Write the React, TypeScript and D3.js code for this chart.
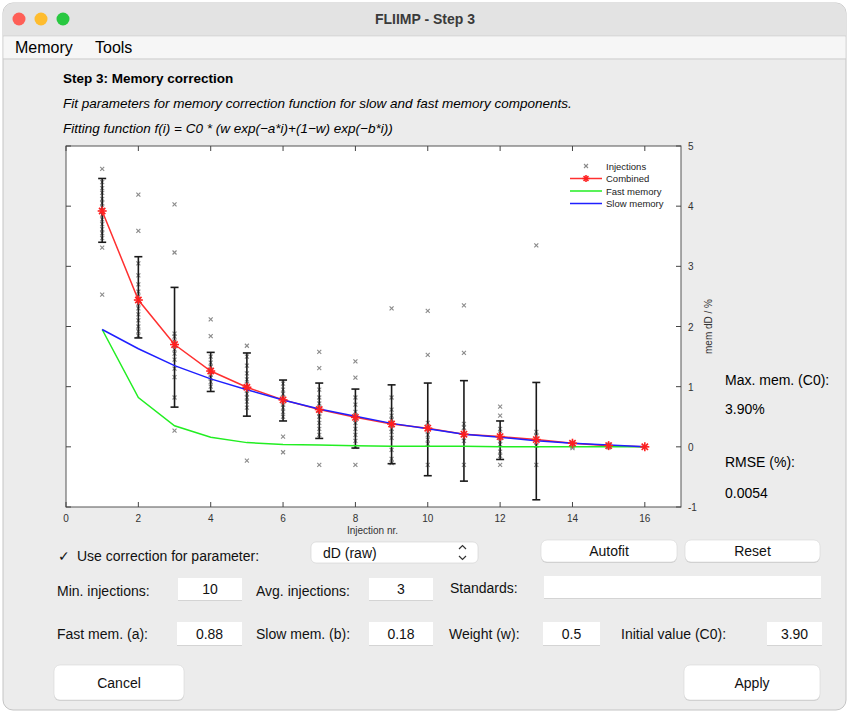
import React from "react";
import * as d3 from "d3";

// data
const injectionNr = [1, 2, 3, 4, 5, 6, 7, 8, 9, 10, 11, 12, 13, 14, 15, 16];
const combined = [3.92, 2.44, 1.70, 1.26, 0.99, 0.78, 0.62, 0.49, 0.38, 0.31, 0.21, 0.17, 0.12, 0.06, 0.02, 0.0];
const fastMemory = [1.95, 0.82, 0.35, 0.16, 0.07, 0.04, 0.03, 0.02, 0.01, 0.01, 0.01, 0.0, 0.0, 0.0, 0.0, 0.0];
const slowMemory = [1.95, 1.63, 1.35, 1.13, 0.95, 0.78, 0.63, 0.51, 0.39, 0.30, 0.21, 0.16, 0.10, 0.06, 0.03, 0.0];
const errHigh = [4.46, 3.16, 2.65, 1.57, 1.56, 1.11, 1.06, 0.96, 1.03, 1.06, 1.10, 0.43, 1.07];
const errLow = [3.40, 1.81, 0.66, 0.92, 0.51, 0.43, 0.14, -0.02, -0.28, -0.48, -0.57, -0.21, -0.88];
const injections = [
  [4.62, 4.4, 4.3, 4.22, 4.12, 4.05, 3.98, 3.93, 3.86, 3.78, 3.7, 3.62, 3.55, 3.47, 3.31, 2.53],
  [4.19, 3.59, 3.05, 2.85, 2.7, 2.58, 2.5, 2.44, 2.38, 2.3, 2.2, 2.1, 2.0, 1.92, 1.85],
  [4.03, 3.23, 1.88, 1.83, 1.75, 1.68, 1.62, 1.55, 1.45, 1.3, 1.16, 0.82, 0.27],
  [2.12, 1.84, 1.5, 1.4, 1.33, 1.28, 1.24, 1.2, 1.15, 1.08, 1.0],
  [1.68, 1.5, 1.35, 1.22, 1.12, 1.04, 0.98, 0.94, 0.88, 0.82, 0.75, 0.65, -0.23],
  [1.05, 0.95, 0.88, 0.82, 0.78, 0.74, 0.7, 0.65, 0.58, 0.5, 0.17, -0.09],
  [1.58, 1.31, 0.95, 0.82, 0.72, 0.65, 0.6, 0.56, 0.5, 0.4, 0.3, 0.2, -0.3],
  [1.42, 1.15, 0.82, 0.7, 0.58, 0.52, 0.48, 0.45, 0.4, 0.3, 0.2, 0.1, 0.0, -0.3],
  [2.3, 0.82, 0.62, 0.52, 0.45, 0.4, 0.36, 0.3, 0.25, 0.15, -0.05, -0.2, -0.27],
  [2.26, 1.53, 0.4, 0.34, 0.3, 0.26, 0.2, 0.12, 0.05, -0.3],
  [2.35, 1.56, 0.38, 0.32, 0.26, 0.21, 0.15, 0.1, -0.3],
  [0.67, 0.52, 0.3, 0.22, 0.18, 0.14, 0.1, 0.04, -0.08, -0.15, -0.3],
  [3.35, 0.25, 0.18, 0.12, 0.08, 0.02, -0.3],
  [0.07, 0.05, 0.02, 0.0, -0.02],
  [0.04, 0.02, 0.0, -0.01],
  [0.0],
];
const xTicks = [0, 2, 4, 6, 8, 10, 12, 14, 16];
const yTicks = [-1, 0, 1, 2, 3, 4, 5];
const legendItems = ["Injections", "Combined", "Fast memory", "Slow memory"];

const W = 849;
const H = 713;
const UI = "'Liberation Sans', Arial, sans-serif";

const Field = ({ x, y, w, h, text }: { x: number; y: number; w: number; h: number; text: string }) => (
  <g>
    <rect x={x} y={y + 1} width={w} height={h} fill="#d4d4d4" />
    <rect x={x} y={y} width={w} height={h} fill="#fff" />
    <text x={x + w / 2} y={y + h / 2 + 5} textAnchor="middle" fontSize={14}>
      {text}
    </text>
  </g>
);

const Button = ({ x, y, w, h, text }: { x: number; y: number; w: number; h: number; text: string }) => (
  <g>
    <rect x={x} y={y + 1} width={w} height={h} rx={6} fill="#cfcfcf" />
    <rect x={x} y={y} width={w} height={h} rx={6} fill="#fff" stroke="#d6d6d6" strokeWidth={0.6} />
    <text x={x + w / 2} y={y + h / 2 + 5} textAnchor="middle" fontSize={14}>
      {text}
    </text>
  </g>
);

const App = () => {
  const x = d3.scaleLinear().domain([0, 17]).range([66, 681]);
  const y = d3.scaleLinear().domain([-1, 5]).range([507, 146]);
  const [x0, x1] = x.range();
  const [y0, y1] = [y(5), y(-1)];

  const line = d3
    .line<number>()
    .x((_, i) => x(injectionNr[i]))
    .y((d) => y(d));

  const star = (cx: number, cy: number, key: string, s = 4.5) => (
    <g key={key} stroke="#ff2020" strokeWidth={1.6}>
      <line x1={cx - s} y1={cy} x2={cx + s} y2={cy} />
      <line x1={cx} y1={cy - s} x2={cx} y2={cy + s} />
      <line x1={cx - s * 0.7} y1={cy - s * 0.7} x2={cx + s * 0.7} y2={cy + s * 0.7} />
      <line x1={cx - s * 0.7} y1={cy + s * 0.7} x2={cx + s * 0.7} y2={cy - s * 0.7} />
    </g>
  );

  const cross = (cx: number, cy: number, key: string) => (
    <g key={key} stroke="#8a8a8a" strokeWidth={1.1}>
      <line x1={cx - 2} y1={cy - 2} x2={cx + 2} y2={cy + 2} />
      <line x1={cx - 2} y1={cy + 2} x2={cx + 2} y2={cy - 2} />
    </g>
  );

  return (
    <div style={{ position: "absolute", left: 0, top: 0 }}>
      <svg width={W} height={H} fontFamily={UI} style={{ display: "block" }}>
        <rect width={W} height={H} fill="#fff" />
        {/* window */}
        <rect x={3} y={3} width={843} height={707} rx={10} fill="#ececec" stroke="#c4c4c4" />
        <path d="M3,36 V13 a10,10 0 0 1 10,-10 H836 a10,10 0 0 1 10,10 V36 Z" fill="#e3e3e3" />
        <line x1={3} x2={846} y1={36} y2={36} stroke="#d0d0d0" />
        <circle cx={19} cy={19} r={6.5} fill="#fe5f57" />
        <circle cx={41} cy={19} r={6.5} fill="#febc2e" />
        <circle cx={63} cy={19} r={6.5} fill="#28c840" />
        <text x={425} y={24} textAnchor="middle" fontSize={14} fontWeight={600} fill="#3a3a3a">
          FLIIMP - Step 3
        </text>
        <rect x={3.5} y={36.5} width={842} height={22} fill="#f6f6f6" />
        <line x1={3} x2={846} y1={59} y2={59} stroke="#cdcdcd" />
        <text x={15} y={53} fontSize={16}>Memory</text>
        <text x={95} y={53} fontSize={16}>Tools</text>

        <text x={63} y={83} fontSize={13.5} fontWeight="bold">Step 3: Memory correction</text>
        <text x={63} y={108} fontSize={13.5} fontStyle="italic">
          Fit parameters for memory correction function for slow and fast memory components.
        </text>
        <text x={63} y={133} fontSize={13.5} fontStyle="italic">
          Fitting function f(i) = C0 * (w exp(−a*i)+(1−w) exp(−b*i))
        </text>

        {/* axes box */}
        <rect x={x0} y={y0} width={x1 - x0} height={y1 - y0} fill="#fff" stroke="#555" strokeWidth={1} />
        <g fontSize={10} fill="#333">
          {xTicks.map((t) => (
            <g key={"xt" + t}>
              <line x1={x(t)} x2={x(t)} y1={y1} y2={y1 - 5} stroke="#444" />
              <line x1={x(t)} x2={x(t)} y1={y0} y2={y0 + 5} stroke="#444" />
              <text x={x(t)} y={y1 + 15} textAnchor="middle">{t}</text>
            </g>
          ))}
          {yTicks.map((t) => (
            <g key={"yt" + t}>
              <line x1={x1} x2={x1 - 5} y1={y(t)} y2={y(t)} stroke="#444" />
              <line x1={x0} x2={x0 + 5} y1={y(t)} y2={y(t)} stroke="#444" />
              <text x={x1 + 7} y={y(t) + 4}>{t}</text>
            </g>
          ))}
          <text x={(x0 + x1) / 2 - 1} y={y1 + 27} textAnchor="middle">Injection nr.</text>
          <text transform={`translate(${x1 + 31},${(y0 + y1) / 2}) rotate(-90)`} textAnchor="middle">
            mem dD / %
          </text>
        </g>

        {/* injections */}
        {injections.map((vals, i) => vals.map((v, j) => cross(x(injectionNr[i]), y(v), `p${i}-${j}`)))}

        {/* error bars */}
        <g stroke="#1a1a1a" strokeWidth={1.6}>
          {errHigh.map((hi, i) => {
            const cx = x(injectionNr[i]);
            return (
              <g key={"e" + i}>
                <line x1={cx} x2={cx} y1={y(hi)} y2={y(errLow[i])} />
                <line x1={cx - 4} x2={cx + 4} y1={y(hi)} y2={y(hi)} />
                <line x1={cx - 4} x2={cx + 4} y1={y(errLow[i])} y2={y(errLow[i])} />
              </g>
            );
          })}
        </g>

        <path d={line(combined) || ""} fill="none" stroke="#ff3030" strokeWidth={1.5} />
        <path d={line(fastMemory) || ""} fill="none" stroke="#22ee22" strokeWidth={1.5} />
        <path d={line(slowMemory) || ""} fill="none" stroke="#1f1fff" strokeWidth={1.5} />
        {combined.map((v, i) => star(x(injectionNr[i]), y(v), "s" + i))}

        {/* legend */}
        <g fontSize={9.5} fill="#222">
          {legendItems.map((name, i) => {
            const ly = 166 + i * 12.5;
            return (
              <g key={name}>
                {i === 0 && cross(586, ly, "lg0")}
                {i > 0 && (
                  <line x1={570} x2={602} y1={ly} y2={ly} strokeWidth={1.5}
                    stroke={["", "#ff3030", "#22ee22", "#1f1fff"][i]} />
                )}
                {i === 1 && star(586, ly, "lg1", 3.5)}
                <text x={606} y={ly + 3.5}>{name}</text>
              </g>
            );
          })}
        </g>

        {/* right panel */}
        <g fontSize={14}>
          <text x={725} y={385}>Max. mem. (C0):</text>
          <text x={725} y={414}>3.90%</text>
          <text x={725} y={467}>RMSE (%):</text>
          <text x={725} y={498}>0.0054</text>
        </g>

        {/* controls */}
        <g fontSize={14} fill="#111">
          <text x={58} y={561}>✓</text>
          <text x={77} y={561}>Use correction for parameter:</text>
          <rect x={311} y={542} width={167} height={21} rx={5} fill="#fff" stroke="#d0d0d0" strokeWidth={0.6} />
          <text x={323} y={558}>dD (raw)</text>
          <path d="M459,549 l3.5,-3.5 l3.5,3.5 M459,556 l3.5,3.5 l3.5,-3.5" fill="none" stroke="#333" strokeWidth={1.2} />
          <Button x={541} y={540} w={136} h={22} text="Autofit" />
          <Button x={685} y={540} w={135} h={22} text="Reset" />

          <text x={57} y={596}>Min. injections:</text>
          <Field x={178} y={578} w={64} h={22} text="10" />
          <text x={256} y={596}>Avg. injections:</text>
          <Field x={369} y={578} w={64} h={22} text="3" />
          <text x={450} y={593}>Standards:</text>
          <Field x={544} y={576} w={277} h={22} text="" />

          <text x={57} y={639}>Fast mem. (a):</text>
          <Field x={177} y={622} w={65} h={23} text="0.88" />
          <text x={256} y={639}>Slow mem. (b):</text>
          <Field x={369} y={622} w={64} h={23} text="0.18" />
          <text x={449} y={639}>Weight (w):</text>
          <Field x={543} y={622} w={57} h={23} text="0.5" />
          <text x={621} y={639}>Initial value (C0):</text>
          <Field x={767} y={622} w={55} h={23} text="3.90" />

          <Button x={54} y={665} w={130} h={35} text="Cancel" />
          <Button x={684} y={665} w={136} h={35} text="Apply" />
        </g>
      </svg>
    </div>
  );
};

export default App;
